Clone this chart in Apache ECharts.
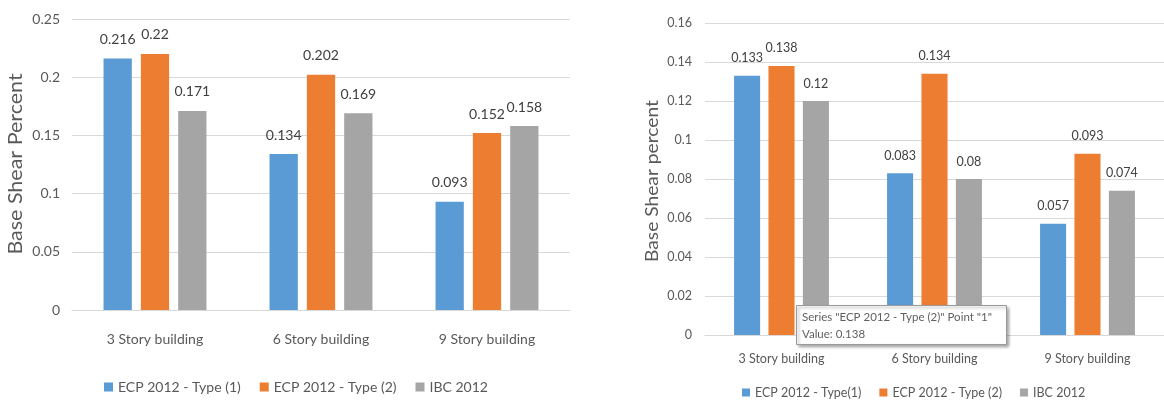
<!DOCTYPE html>
<html>
<head>
<meta charset="utf-8">
<script src="https://cdn.jsdelivr.net/npm/echarts@6/dist/echarts.min.js"></script>
<style>
  html, body { margin: 0; padding: 0; background: #ffffff; }
  #chart { width: 1164px; height: 405px; }
</style>
</head>
<body>
<div id="chart"></div>
<script>
// Building categories shared by both panels
const categories = ['3 Story building', '6 Story building', '9 Story building'];

// Left panel: base shear percent per code
const leftNames = ['ECP 2012 - Type (1)', 'ECP 2012 - Type (2)', 'IBC 2012'];
const leftType1 = [0.216, 0.134, 0.093];
const leftType2 = [0.22, 0.202, 0.152];
const leftIbc = [0.171, 0.169, 0.158];
const leftTicks = { min: 0, max: 0.25, interval: 0.05 };
const leftTitle = 'Base Shear Percent';

// Right panel: base shear percent per code
const rightNames = ['ECP 2012 - Type(1)', 'ECP 2012 - Type (2)', 'IBC 2012'];
const rightType1 = [0.133, 0.083, 0.057];
const rightType2 = [0.138, 0.134, 0.093];
const rightIbc = [0.12, 0.08, 0.074];
const rightTicks = { min: 0, max: 0.16, interval: 0.02 };
const rightTitle = 'Base Shear percent';

const colors = ['#5B9BD5', '#ED7D31', '#A5A5A5'];
const FONT = 'Lato, "Open Sans", sans-serif';
const textColor = '#595959';
const gridColor = '#D9D9D9';

function yAxis(gridIndex, ticks, fontSize, margin) {
  return {
    type: 'value', gridIndex: gridIndex,
    min: ticks.min, max: ticks.max, interval: ticks.interval,
    axisLine: { show: false }, axisTick: { show: false },
    axisLabel: { color: textColor, fontFamily: FONT, fontSize: fontSize, margin: margin,
      formatter: v => String(+v.toFixed(4)) },
    splitLine: { lineStyle: { color: gridColor, width: 1 } }
  };
}

function xAxis(gridIndex, fontSize, margin) {
  return {
    type: 'category', gridIndex: gridIndex, data: categories,
    axisLine: { lineStyle: { color: gridColor, width: 1 } },
    axisTick: { show: false },
    axisLabel: { color: textColor, fontFamily: FONT, fontSize: fontSize, margin: margin }
  };
}

function bars(axisIndex, name, values, color, fontSize, distance) {
  return {
    type: 'bar', name: name, data: values,
    xAxisIndex: axisIndex, yAxisIndex: axisIndex,
    barCategoryGap: '38%', barGap: '32%',
    itemStyle: { color: color },
    label: { show: true, position: 'top', distance: distance,
      color: '#404040', fontFamily: FONT, fontSize: fontSize },
    animation: false
  };
}

// Vertical axis title, drawn as rotated text reading bottom to top
function axisTitle(text, x, y, fontSize, stretch) {
  return {
    type: 'text', x: x, y: y, rotation: Math.PI / 2, scaleX: stretch, z: 50,
    style: { text: text, fill: textColor, font: fontSize + 'px ' + FONT,
      align: 'center', verticalAlign: 'middle' }
  };
}

const chart = echarts.init(document.getElementById('chart'), null, { renderer: 'canvas' });

const tipText = 'Series "' + rightNames[1] + '" Point "1"\nValue: ' + rightType2[0];

chart.setOption({
  animation: false,
  color: colors,
  grid: [
    { left: 72, top: 19, width: 498, height: 291 },
    { left: 705, top: 23, width: 468, height: 312 }
  ],
  xAxis: [xAxis(0, 14, 22), xAxis(1, 12.5, 17)],
  yAxis: [
    yAxis(0, leftTicks, 14, 12),
    yAxis(1, rightTicks, 12.5, 13)
  ],
  legend: [
    {
      left: 99, top: 375, itemWidth: 9, itemHeight: 9, itemGap: 19,
      icon: 'rect', data: leftNames,
      textStyle: { color: textColor, fontFamily: FONT, fontSize: 14 }
    },
    {
      left: 737, top: 381, itemWidth: 8, itemHeight: 8, itemGap: 18,
      icon: 'rect', data: rightNames,
      textStyle: { color: textColor, fontFamily: FONT, fontSize: 12.5 }
    }
  ],
  series: [
    bars(0, leftNames[0], leftType1, colors[0], 14, 12),
    bars(0, leftNames[1], leftType2, colors[1], 14, 12),
    bars(0, leftNames[2], leftIbc, colors[2], 14, 12),
    bars(1, rightNames[0], rightType1, colors[0], 12.5, 11),
    bars(1, rightNames[1], rightType2, colors[1], 12.5, 11),
    bars(1, rightNames[2], rightIbc, colors[2], 12.5, 11)
  ],
  graphic: [
    axisTitle(leftTitle, 16, 164, 19, 1.13),
    axisTitle(rightTitle, 653, 181, 17, 1.13),
    {
      type: 'rect', left: 796, top: 305, z: 100,
      shape: { x: 0, y: 0, width: 210, height: 39 },
      style: { fill: '#ffffff', stroke: '#9a9a9a', lineWidth: 1,
        shadowColor: 'rgba(0,0,0,0.35)', shadowBlur: 3, shadowOffsetX: 2, shadowOffsetY: 2 }
    },
    {
      type: 'text', left: 802, top: 309, z: 101,
      style: { text: tipText, fill: '#5f5f5f', font: '11.5px ' + FONT, lineHeight: 17 }
    }
  ]
});
</script>
</body>
</html>
